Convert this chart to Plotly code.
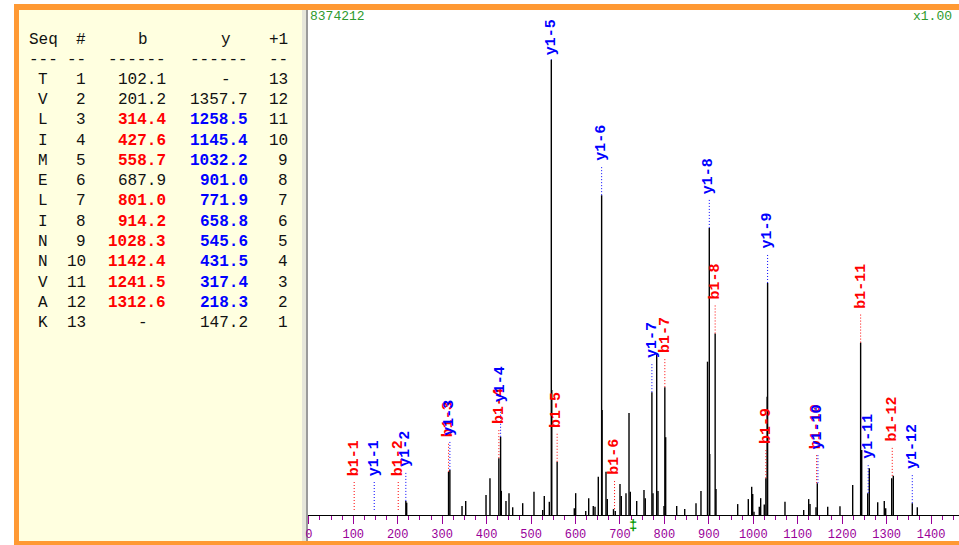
import plotly.graph_objects as go

# ---------------- data ----------------
peak_mz = [218.3, 220.2, 314.4, 317.4, 344.7, 353.0, 398.7, 407.6, 427.6, 431.5,
           433.1, 443.6, 450.4, 458.7, 481.2, 506.6, 526.2, 529.8, 541.1, 545.6,
           546.6, 558.7, 597.3, 600.4, 623.0, 629.7, 640.0, 643.9, 651.3, 658.8,
           659.8, 668.6, 671.5, 685.5, 689.5, 700.1, 703.0, 713.6, 720.4, 723.3,
           737.7, 754.1, 757.0, 771.9, 774.4, 782.7, 785.6, 799.1, 801.0, 802.9,
           827.7, 845.7, 871.1, 882.3, 897.0, 901.0, 902.0, 914.2, 916.1, 964.9,
           988.8, 996.4, 998.7, 1001.6, 1013.5, 1016.6, 1024.7, 1028.3, 1031.2, 1032.2,
           1071.3, 1113.4, 1124.6, 1127.6, 1141.1, 1144.0, 1167.4, 1195.0, 1223.6, 1241.5,
           1243.9, 1257.4, 1261.0, 1279.9, 1294.7, 1297.9, 1311.4, 1315.0, 1357.7, 1369.0]
peak_int = [3.1, 2.7, 9.5, 9.9, 2.0, 3.1, 4.4, 8.1, 12.5, 17.2,
            5.3, 3.1, 4.8, 1.7, 2.6, 5.1, 1.1, 4.2, 2.9, 100.0,
            27.5, 11.7, 1.5, 4.8, 0.9, 3.7, 2.0, 1.8, 8.4, 70.3,
            23.1, 9.5, 3.5, 1.3, 0.9, 6.8, 4.2, 4.8, 22.4, 5.1,
            3.1, 5.5, 3.7, 27.0, 4.8, 35.5, 5.3, 2.0, 28.1, 17.1,
            2.0, 1.3, 2.6, 5.3, 33.7, 63.1, 13.4, 39.9, 5.7, 2.4,
            3.5, 6.2, 4.6, 0.7, 1.8, 3.7, 2.3, 8.1, 26.0, 51.0,
            2.9, 1.1, 3.5, 2.4, 1.7, 7.0, 1.8, 1.9, 6.6, 37.9,
            14.3, 4.8, 10.3, 2.8, 3.1, 1.5, 8.1, 8.6, 2.6, 1.7]

label_names = ["b1-1", "y1-1", "b1-2", "y1-2", "b1-3", "y1-3", "b1-4", "y1-4",
               "y1-5", "b1-5", "y1-6", "b1-6", "y1-7", "b1-7", "y1-8", "b1-8",
               "b1-9", "y1-9", "b1-10", "y1-10", "b1-11", "y1-11", "b1-12", "y1-12"]
label_mz = [102.1, 147.2, 201.2, 218.3, 314.4, 317.4, 427.6, 431.5,
            545.6, 558.7, 658.8, 687.9, 771.9, 801.0, 901.0, 914.2,
            1028.3, 1032.2, 1142.4, 1145.4, 1241.5, 1258.5, 1312.6, 1357.7]
label_int = [0, 0, 0, 3.1, 9.5, 9.9, 12.5, 17.2,
             100.0, 11.7, 70.3, 1.3, 27.0, 28.1, 63.1, 39.9,
             8.1, 51.0, 7.0, 7.0, 37.9, 4.8, 8.6, 2.6]

seq = ["T", "V", "L", "I", "M", "E", "L", "I", "N", "N", "V", "A", "K"]
b_ions = ["102.1", "201.2", "314.4", "427.6", "558.7", "687.9", "801.0",
          "914.2", "1028.3", "1142.4", "1241.5", "1312.6", "-"]
y_ions = ["-", "1357.7", "1258.5", "1145.4", "1032.2", "901.0", "771.9",
          "658.8", "545.6", "431.5", "317.4", "218.3", "147.2"]
b_match = [0, 0, 1, 1, 1, 0, 1, 1, 1, 1, 1, 1, 0]
y_match = [0, 0, 1, 1, 1, 1, 1, 1, 1, 1, 1, 1, 0]

max_intensity_text = "8374212"
scale_text = "x1.00"
precursor_mz = 728.9

# ---------------- geometry / styles ----------------
W, H = 959, 545
PLOT_L, PLOT_T, PLOT_B = 308, 10, 515
X_RANGE = [-1.8, 1462.8]
PLOT_H = PLOT_B - PLOT_T
Y_TOP = 111.0
PPU = PLOT_H / Y_TOP  # pixels per intensity unit

ORANGE = "#FF9933"
PANEL = "#FFFFE0"
PURPLE = "#990099"
GREEN = "#2E9A2E"
RED = "#FF0000"
BLUE = "#0000FF"
TXT = "#111111"
MONO = "Courier New, Liberation Mono, monospace"


def px(xp):
    return xp / W


def py(yp):
    return 1 - yp / H


fig = go.Figure()

xs, ys = [], []
for m, h in zip(peak_mz, peak_int):
    xs += [m, m, None]
    ys += [0, h, None]
fig.add_trace(go.Scatter(x=xs, y=ys, mode="lines",
                         line=dict(color="black", width=1.4),
                         hoverinfo="skip", showlegend=False))

shapes = []
annotations = []

# frame / panels
shapes += [
    dict(type="rect", xref="paper", yref="paper", x0=px(14), x1=px(W), y0=py(4), y1=py(10),
         fillcolor=ORANGE, line=dict(width=0), layer="below"),
    dict(type="rect", xref="paper", yref="paper", x0=px(14), x1=px(19), y0=py(4), y1=py(H),
         fillcolor=ORANGE, line=dict(width=0), layer="below"),
    dict(type="rect", xref="paper", yref="paper", x0=px(14), x1=px(W), y0=py(541), y1=py(H),
         fillcolor=ORANGE, line=dict(width=0), layer="below"),
    dict(type="rect", xref="paper", yref="paper", x0=px(19), x1=px(302), y0=py(10), y1=py(541),
         fillcolor=PANEL, line=dict(width=0), layer="below"),
    dict(type="rect", xref="paper", yref="paper", x0=px(302), x1=px(306), y0=py(10), y1=py(541),
         fillcolor="#E6E6DA", line=dict(width=0), layer="below"),
    dict(type="rect", xref="paper", yref="paper", x0=px(306), x1=px(308), y0=py(10), y1=py(541),
         fillcolor="#9A9A9A", line=dict(width=0), layer="below"),
]

# fragment labels
for name, m, h in zip(label_names, label_mz, label_int):
    col = RED if name.startswith("b") else BLUE
    base = max(h * PPU, 5)
    line_top = base + 30
    text_len = 9 * len(name) + 2
    bottom = min(line_top + 3, (PLOT_B - 18) - text_len)
    line_top = min(line_top, bottom - 3)
    if line_top > base:
        shapes.append(dict(type="line", xref="x", yref="y", x0=m, x1=m,
                           y0=base / PPU, y1=line_top / PPU,
                           line=dict(color=col, width=1, dash="1px,2px")))
    annotations.append(dict(x=m, y=bottom / PPU, xref="x", yref="y", text="<b>%s</b>" % name,
                            textangle=-90, showarrow=False, xanchor="center", yanchor="bottom",
                            font=dict(family=MONO, size=15, color=col), borderpad=0))

# precursor marker
annotations.append(dict(x=precursor_mz, y=0, xref="x", yref="y", text="<b>‡</b>",
                        showarrow=False, yanchor="top", xanchor="center", yshift=-1,
                        font=dict(family=MONO, size=14, color="#009900")))

# top texts
annotations.append(dict(x=px(308), y=py(17), xref="paper", yref="paper", text=max_intensity_text,
                        showarrow=False, xanchor="left", yanchor="middle",
                        font=dict(family=MONO, size=13, color=GREEN)))
annotations.append(dict(x=px(954), y=py(17), xref="paper", yref="paper", text=scale_text,
                        showarrow=False, xanchor="right", yanchor="middle",
                        font=dict(family=MONO, size=13, color=GREEN)))


# table
def cell(text, xp, yp, anchor, color=TXT, bold=False):
    t = "<b>%s</b>" % text if bold else text
    annotations.append(dict(x=px(xp), y=py(yp), xref="paper", yref="paper", text=t,
                            showarrow=False, xanchor=anchor, yanchor="middle",
                            font=dict(family=MONO, size=16, color=color)))


HEAD_Y, DASH_Y, ROW0, ROW_DY = 40, 60, 80, 20.25
cell("Seq", 43, HEAD_Y, "center")
cell("#", 88, HEAD_Y, "right")
cell("b", 143, HEAD_Y, "center")
cell("y", 226, HEAD_Y, "center")
cell("+1", 290, HEAD_Y, "right")
cell("---", 43, DASH_Y, "center")
cell("--", 88, DASH_Y, "right")
cell("------", 168, DASH_Y, "right")
cell("------", 250, DASH_Y, "right")
cell("--", 290, DASH_Y, "right")

n = len(seq)
for i in range(n):
    yy = ROW0 + ROW_DY * i
    cell(seq[i], 43, yy, "center")
    cell(str(i + 1), 88, yy, "right")
    if b_ions[i] == "-":
        cell("-", 143, yy, "center")
    else:
        cell(b_ions[i], 168, yy, "right", RED if b_match[i] else TXT, bool(b_match[i]))
    if y_ions[i] == "-":
        cell("-", 226, yy, "center")
    else:
        cell(y_ions[i], 250, yy, "right", BLUE if y_match[i] else TXT, bool(y_match[i]))
    cell(str(n - i), 290, yy, "right")

fig.update_layout(
    width=W, height=H, autosize=False,
    margin=dict(l=0, r=0, t=0, b=0),
    paper_bgcolor="white", plot_bgcolor="white",
    showlegend=False,
    shapes=shapes, annotations=annotations,
    xaxis=dict(domain=[PLOT_L / W, 1], range=X_RANGE, tick0=0, dtick=100,
               ticks="outside", ticklen=8, tickwidth=1, tickcolor=PURPLE,
               minor=dict(dtick=25, tick0=0, ticks="outside", ticklen=4, tickwidth=1,
                          tickcolor=PURPLE, showgrid=False),
               tickfont=dict(family=MONO, size=12, color=PURPLE),
               showline=True, linecolor="black", linewidth=1,
               showgrid=False, zeroline=False, automargin=False, fixedrange=True),
    yaxis=dict(domain=[1 - PLOT_B / H, 1 - PLOT_T / H], range=[0, Y_TOP], visible=False,
               showgrid=False, zeroline=False, automargin=False, fixedrange=True),
)

fig.write_html("out.html")
